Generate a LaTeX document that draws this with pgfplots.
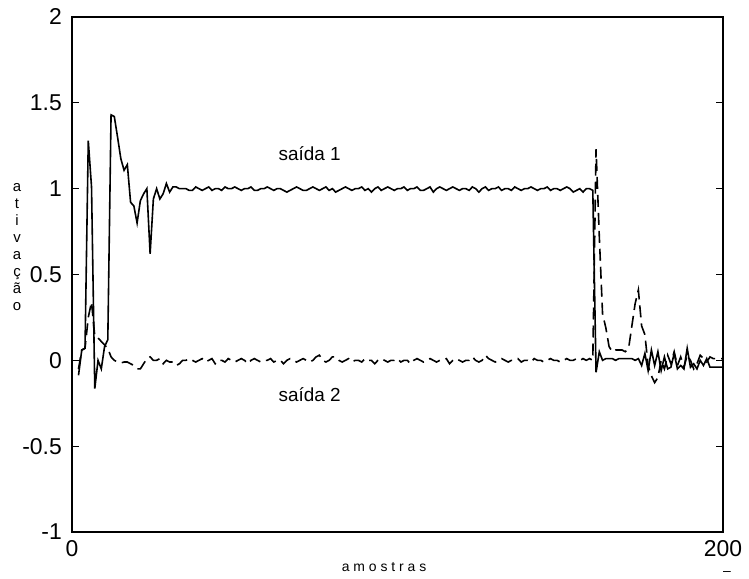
\documentclass[border=0pt]{standalone}
\usepackage{fontspec}
\setmainfont{Liberation Sans}
\usepackage{pgfplots}
\pgfplotsset{compat=1.18}
\begin{document}
\begin{tikzpicture}
\useasboundingbox (0,0) rectangle (749bp,579bp);
\begin{axis}[
  at={(72bp,47bp)}, anchor=south west,
  scale only axis, width=651bp, height=515bp,
  xmin=0, xmax=200, ymin=-1, ymax=2,
  xtick={0,200}, ytick={-1,-0.5,0,0.5,1,1.5,2},
  minor tick num=0,
  tick align=inside, major tick length=7bp,
  tick style={line width=0.8bp, black},
  axis line style={line width=1.2bp},
  ticklabel style={font=\fontsize{23}{27}\selectfont},
  /pgf/number format/assume math mode=true,
  yticklabel style={inner sep=0pt, xshift=-10bp},
  xticklabel style={inner sep=0pt, yshift=-8bp},
]
\addplot[black, line width=1.6bp] coordinates {
(2,-0.087)(3,0.06)(4,0.07)(5,1.28)(6,1.01)(7,-0.165)(8,0.0)(9,-0.05)(10,0.08)(11,0.12)
(12,1.43)(13,1.42)(14,1.30)(15,1.175)(16,1.107)(17,1.14)(18,0.92)(19,0.90)(20,0.80)(21,0.93)
(22,0.97)(23,1.00)(24,0.62)(25,0.94)(26,1.00)(27,0.94)(28,0.97)(29,1.03)(30,0.98)(31,1.01)
(32,1.01)(33,1.00)(34,1.00)(35,1.00)(36,0.99)(37,0.99)(38,1.01)(39,1.00)(40,0.99)(41,1.00)
(42,1.01)(43,0.99)(44,1.00)(45,1.00)(46,0.99)(47,1.01)(48,1.00)(49,1.00)(50,1.01)(51,1.00)
(52,0.99)(53,1.00)(54,1.00)(55,1.01)(56,0.99)(57,0.99)(58,1.00)(59,1.00)(60,1.01)(61,1.00)
(62,0.99)(63,1.00)(64,1.00)(65,0.99)(66,0.98)(67,0.99)(68,1.00)(69,1.01)(70,1.00)(71,0.99)
(72,0.99)(73,1.00)(74,1.01)(75,1.00)(76,0.99)(77,1.00)(78,1.01)(79,0.99)(80,1.00)(81,0.98)
(82,0.99)(83,1.00)(84,1.01)(85,1.00)(86,0.99)(87,1.00)(88,1.00)(89,1.01)(90,0.99)(91,1.00)
(92,0.98)(93,1.00)(94,1.01)(95,0.99)(96,1.00)(97,1.01)(98,1.00)(99,0.99)(100,1.00)(101,1.00)
(102,1.01)(103,0.99)(104,1.00)(105,1.00)(106,1.01)(107,0.99)(108,0.99)(109,1.00)(110,1.01)(111,0.98)
(112,1.00)(113,1.01)(114,1.00)(115,0.99)(116,1.00)(117,1.01)(118,1.00)(119,0.99)(120,1.00)(121,1.00)
(122,0.99)(123,1.01)(124,1.00)(125,0.98)(126,1.00)(127,1.01)(128,0.99)(129,1.00)(130,1.00)(131,1.01)
(132,0.99)(133,1.00)(134,1.00)(135,0.99)(136,1.01)(137,1.00)(138,0.99)(139,1.00)(140,1.00)(141,1.01)
(142,1.00)(143,0.99)(144,1.00)(145,1.00)(146,1.01)(147,0.99)(148,1.00)(149,1.00)(150,0.99)(151,1.00)
(152,1.01)(153,1.00)(154,0.98)(155,0.99)(156,1.00)(157,0.98)(158,1.00)(159,1.00)(160,0.99)(161,-0.07)
(162,0.05)(163,0.00)(164,0.01)(165,0.01)(166,0.01)(167,0.00)(168,0.01)(169,0.01)(170,0.01)(171,0.01)
(172,0.01)(173,0.00)(174,0.01)(175,-0.03)(176,0.04)(177,-0.06)(178,0.06)(179,-0.03)(180,0.05)(181,-0.06)
(182,0.02)(183,-0.05)(184,-0.04)(185,0.04)(186,-0.05)(187,-0.03)(188,-0.05)(189,0.07)(190,-0.04)(191,-0.02)
(192,-0.05)(193,0.00)(194,-0.03)(195,0.01)(196,-0.04)(197,-0.04)(198,-0.04)(199,-0.04)(200,-0.04)
};
\addplot[black, line width=1.6bp, dash pattern=on 12bp off 6bp] coordinates {
(2,-0.05)(3,0.06)(4,0.07)(5,0.25)(6,0.34)(7,0.14)(8,0.13)(9,0.11)(10,0.09)(11,0.07)
(12,0.02)(13,0.00)(14,-0.01)(15,-0.015)(16,-0.01)(17,-0.01)(18,-0.02)(19,-0.03)(20,-0.05)(21,-0.05)
(22,-0.02)(23,0.01)(24,0.02)(25,0.00)(26,0.00)(27,0.01)(28,-0.02)(29,0.00)(30,-0.01)(31,-0.01)
(32,-0.03)(33,-0.02)(34,0.00)(35,0.00)(36,0.01)(37,0.00)(38,-0.01)(39,0.00)(40,0.01)(41,-0.01)
(42,0.00)(43,0.01)(44,-0.02)(45,0.00)(46,0.00)(47,-0.01)(48,0.01)(49,0.00)(50,-0.01)(51,0.00)
(52,0.01)(53,0.00)(54,-0.02)(55,0.00)(56,0.01)(57,0.00)(58,-0.01)(59,0.00)(60,0.00)(61,0.01)
(62,-0.01)(63,0.00)(64,0.00)(65,-0.02)(66,0.00)(67,0.01)(68,0.00)(69,-0.01)(70,0.00)(71,0.01)
(72,0.00)(73,-0.01)(74,0.00)(75,0.02)(76,0.03)(77,0.00)(78,-0.01)(79,0.00)(80,0.02)(81,0.02)
(82,0.00)(83,-0.01)(84,0.00)(85,0.01)(86,-0.01)(87,0.00)(88,0.00)(89,-0.01)(90,0.01)(91,0.00)
(92,0.00)(93,-0.02)(94,0.00)(95,0.01)(96,0.00)(97,-0.01)(98,0.00)(99,0.00)(100,0.01)(101,-0.01)
(102,0.00)(103,0.00)(104,-0.02)(105,0.00)(106,0.01)(107,0.00)(108,-0.01)(109,0.00)(110,0.01)(111,0.00)
(112,-0.01)(113,0.00)(114,0.00)(115,0.01)(116,-0.02)(117,0.00)(118,0.01)(119,0.00)(120,-0.01)(121,0.00)
(122,0.00)(123,0.02)(124,0.00)(125,-0.01)(126,0.00)(127,0.03)(128,0.01)(129,0.00)(130,-0.01)(131,0.00)
(132,0.01)(133,0.00)(134,-0.01)(135,0.00)(136,0.00)(137,0.01)(138,-0.01)(139,0.00)(140,0.00)(141,-0.01)
(142,0.01)(143,0.00)(144,0.00)(145,-0.01)(146,0.00)(147,0.01)(148,0.00)(149,0.00)(150,-0.01)(151,0.00)
(152,0.01)(153,0.00)(154,0.00)(155,0.01)(156,0.00)(157,0.01)(158,0.00)(159,0.01)(160,0.00)(161,1.23)
(162,0.72)(163,0.27)(164,0.19)(165,0.08)(166,0.05)(167,0.06)(168,0.06)(169,0.06)(170,0.05)(171,0.07)
(172,0.20)(173,0.33)(174,0.41)(175,0.20)(176,0.15)(177,-0.03)(178,-0.09)(179,-0.13)(180,-0.10)(181,0.00)
(182,-0.05)(183,0.03)(184,-0.02)(185,0.05)(186,-0.03)(187,0.02)(188,-0.04)(189,0.03)(190,0.00)(191,-0.05)
(192,-0.02)(193,0.03)(194,0.01)(195,-0.01)(196,0.02)(197,0.01)(198,0.01)(199,0.01)(200,0.01)
};
\node[font=\fontsize{19}{22}\selectfont] at (axis cs:73,1.205) {saída 1};
\node[font=\fontsize{19}{22}\selectfont] at (axis cs:73,-0.198) {saída 2};
\end{axis}
\node[font=\fontsize{15}{17}\selectfont, align=center, inner sep=0pt] at (17bp,332bp) {a\\t\\i\\v\\a\\ç\\ã\\o};
\node[font=\fontsize{14}{16}\selectfont, inner sep=0pt] at (384bp,12bp) {a m o s t r a s};
\node[font=\fontsize{14}{16}\selectfont, inner sep=0pt] at (727bp,6bp) {\textendash};
\end{tikzpicture}
\end{document}
